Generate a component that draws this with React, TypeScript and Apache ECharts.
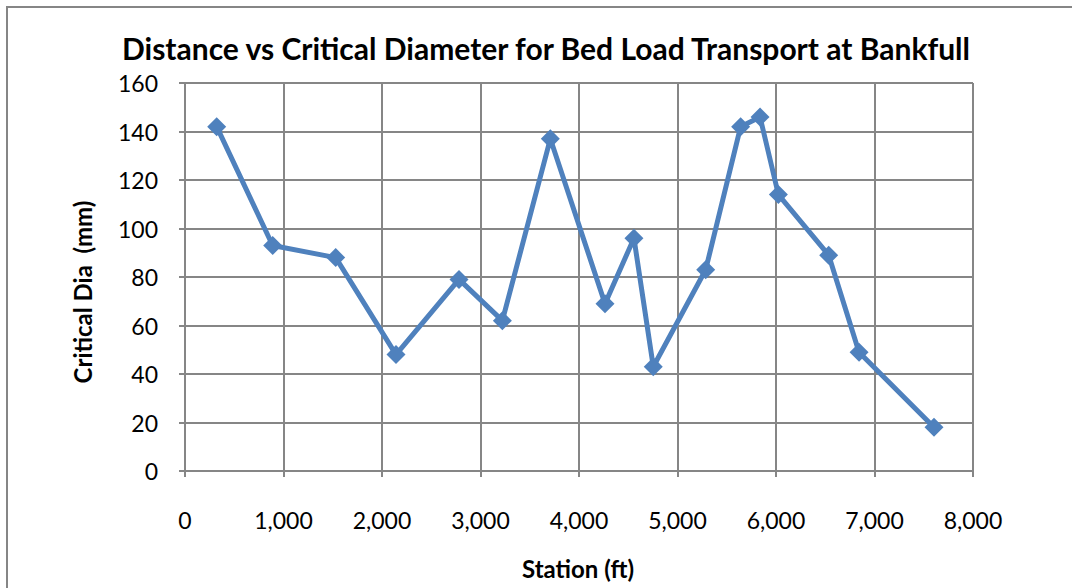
import React, { useEffect, useRef } from "react";
import * as echarts from "echarts";

const titleText = "Distance vs Critical Diameter for Bed Load Transport at Bankfull";
const xAxisTitle = "Station (ft)";
const yAxisTitle = "Critical Dia  (mm)";
const stations = [322, 890, 1530, 2142, 2782, 3222, 3709, 4264, 4558, 4754, 5286, 5641, 5838, 6024, 6535, 6843, 7604];
const criticalDia = [142, 93, 88, 48, 79, 62, 137, 69, 96, 43, 83, 142, 146, 114, 89, 49, 18];

const FONT = "Lato, 'Open Sans', sans-serif";
const GRID = "#868686";

export default function App() {
  const ref = useRef<HTMLDivElement>(null);
  useEffect(() => {
    if (!ref.current) return;
    const chart = echarts.init(ref.current, null, { renderer: "svg" });
    const data = stations.map((s, i) => [s, criticalDia[i]]);
    chart.setOption({
      animation: false,
      backgroundColor: "#ffffff",
      grid: { left: 185, right: 99, top: 83, bottom: 117, containLabel: false },
      xAxis: {
        type: "value",
        min: 0,
        max: 8000,
        interval: 1000,
        axisLine: { show: true, lineStyle: { color: GRID, width: 2 } },
        axisTick: { show: true, length: 6, lineStyle: { color: GRID, width: 2 } },
        axisLabel: {
          color: "#000",
          fontFamily: FONT,
          fontSize: 23,
          margin: 37,
          formatter: (v: number) => v.toLocaleString("en-US"),
        },
        splitLine: { show: true, lineStyle: { color: GRID, width: 2 } },
      },
      yAxis: {
        type: "value",
        min: 0,
        max: 160,
        interval: 20,
        axisLine: { show: true, lineStyle: { color: GRID, width: 2 } },
        axisTick: { show: true, length: 6, lineStyle: { color: GRID, width: 2 } },
        axisLabel: { color: "#000", fontFamily: FONT, fontSize: 23, margin: 27 },
        splitLine: { show: true, lineStyle: { color: GRID, width: 2 } },
      },
      graphic: [
        {
          type: "rect",
          shape: { x: 7, y: 7, width: 1200, height: 800 },
          style: { fill: "none", stroke: "#868686", lineWidth: 2 },
          silent: true,
        },
        {
          type: "text",
          x: 546,
          y: 48,
          style: {
            text: titleText,
            fontFamily: FONT,
            fontWeight: "bold",
            fontSize: 30,
            fill: "#000",
            align: "center",
            verticalAlign: "middle",
          },
        },
        {
          type: "text",
          x: 578,
          y: 568,
          style: {
            text: xAxisTitle,
            fontFamily: FONT,
            fontWeight: "bold",
            fontSize: 24,
            fill: "#000",
            align: "center",
            verticalAlign: "middle",
          },
        },
        {
          type: "text",
          x: 82,
          y: 292,
          rotation: Math.PI / 2,
          style: {
            text: yAxisTitle,
            fontFamily: FONT,
            fontWeight: "bold",
            fontSize: 24,
            fill: "#000",
            align: "center",
            verticalAlign: "middle",
          },
        },
      ],
      series: [
        {
          type: "line",
          data,
          symbol: "diamond",
          symbolSize: 19,
          itemStyle: { color: "#4F81BD" },
          lineStyle: { color: "#4F81BD", width: 5 },
          z: 5,
        },
      ],
    });
    return () => chart.dispose();
  }, []);
  return (
    <div
      ref={ref}
      style={{ position: "fixed", left: 0, top: 0, width: 1072, height: 588, background: "#fff" }}
    />
  );
}
